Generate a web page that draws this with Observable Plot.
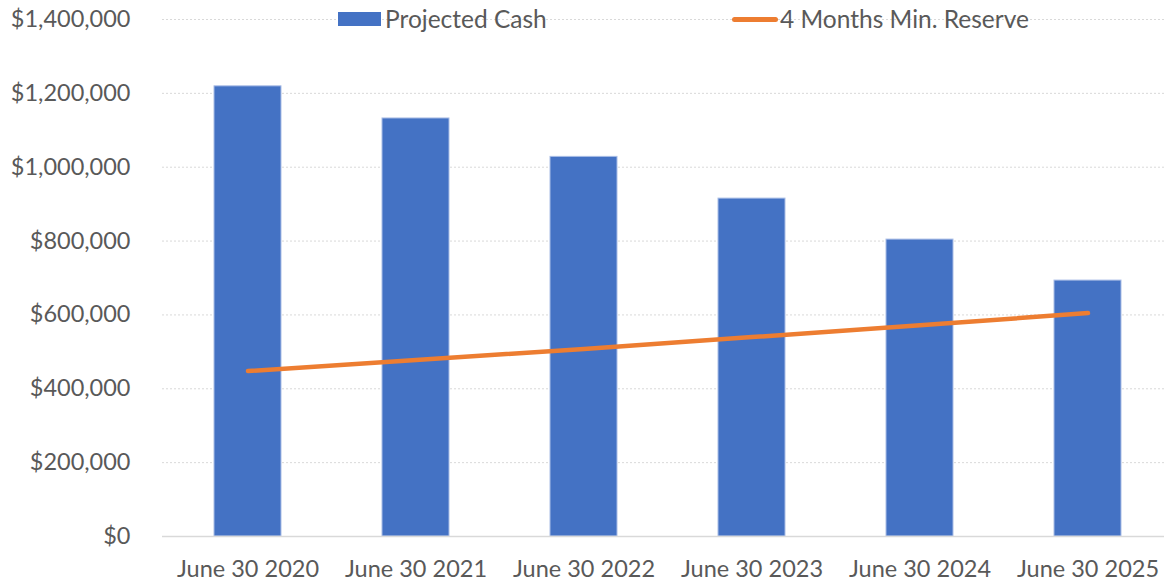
<!DOCTYPE html>
<html>
<head>
<meta charset="utf-8">
<script src="https://cdn.jsdelivr.net/npm/d3@7"></script>
<script src="https://cdn.jsdelivr.net/npm/@observablehq/plot@0.6"></script>
<style>
  html, body { margin: 0; padding: 0; background: #fff; }
  #wrap { position: relative; width: 1164px; height: 584px; overflow: hidden; font-family: Lato, "Open Sans", sans-serif; color: #595959; }
  .legend { position: absolute; top: 4px; font-size: 24.5px; line-height: 30px; display: flex; align-items: center; white-space: nowrap; }
  .sw-bar { display: inline-block; width: 43px; height: 14px; background: #4472C4; margin-right: 4px; }
  .sw-line { display: inline-block; width: 46px; height: 5px; border-radius: 3px; background: #ED7D31; margin-right: 2px; }
</style>
</head>
<body>
<div id="wrap"></div>
<script>
const categories = ["June 30 2020", "June 30 2021", "June 30 2022", "June 30 2023", "June 30 2024", "June 30 2025"];
const projectedCash = [1219000, 1132000, 1028000, 915000, 804000, 693000];
const minReserve = [448000, 478000, 508000, 540000, 572000, 605000];
const yTicks = [0, 200000, 400000, 600000, 800000, 1000000, 1200000, 1400000];
const seriesNames = ["Projected Cash", "4 Months Min. Reserve"];

const data = categories.map((c, i) => ({cat: c, cash: projectedCash[i], reserve: minReserve[i]}));
const fmt = d3.format("$,.0f");

const chart = Plot.plot({
  width: 1164,
  height: 584,
  marginTop: 19,
  marginBottom: 48,
  marginLeft: 162,
  marginRight: 0,
  style: {fontFamily: "Lato, 'Open Sans', sans-serif", fontSize: "23.5px", color: "#595959", background: "#fff", overflow: "visible"},
  x: {domain: categories, range: [162, 1173], paddingInner: 0.6, paddingOuter: 0.3, label: null},
  y: {domain: [0, 1400000], ticks: yTicks, label: null},
  marks: [
    Plot.gridY(yTicks.filter(d => d > 0), {stroke: "#d9d9d9", strokeOpacity: 1, strokeDasharray: "2,2", strokeWidth: 1}),
    Plot.barY(data, {x: "cat", y: "cash", fill: "#4472C4", stroke: "#a9bde6", strokeWidth: 1}),
    Plot.ruleY([0], {stroke: "#d9d9d9", strokeWidth: 1.3}),
    Plot.line(data, {x: "cat", y: "reserve", stroke: "#ED7D31", strokeWidth: 4.5, strokeLinecap: "round"}),
    Plot.axisY({ticks: yTicks, tickSize: 0, tickPadding: 32, tickFormat: fmt, fill: "#595959"}),
    Plot.axisX({tickSize: 0, tickPadding: 24, fill: "#595959"})
  ]
});

const wrap = document.getElementById("wrap");
wrap.appendChild(chart);

const l1 = document.createElement("div");
l1.className = "legend";
l1.style.left = "338px";
l1.innerHTML = '<span class="sw-bar"></span><span></span>';
l1.lastChild.textContent = seriesNames[0];
wrap.appendChild(l1);

const l2 = document.createElement("div");
l2.className = "legend";
l2.style.left = "732px";
l2.innerHTML = '<span class="sw-line"></span><span></span>';
l2.lastChild.textContent = seriesNames[1];
wrap.appendChild(l2);
</script>
</body>
</html>
